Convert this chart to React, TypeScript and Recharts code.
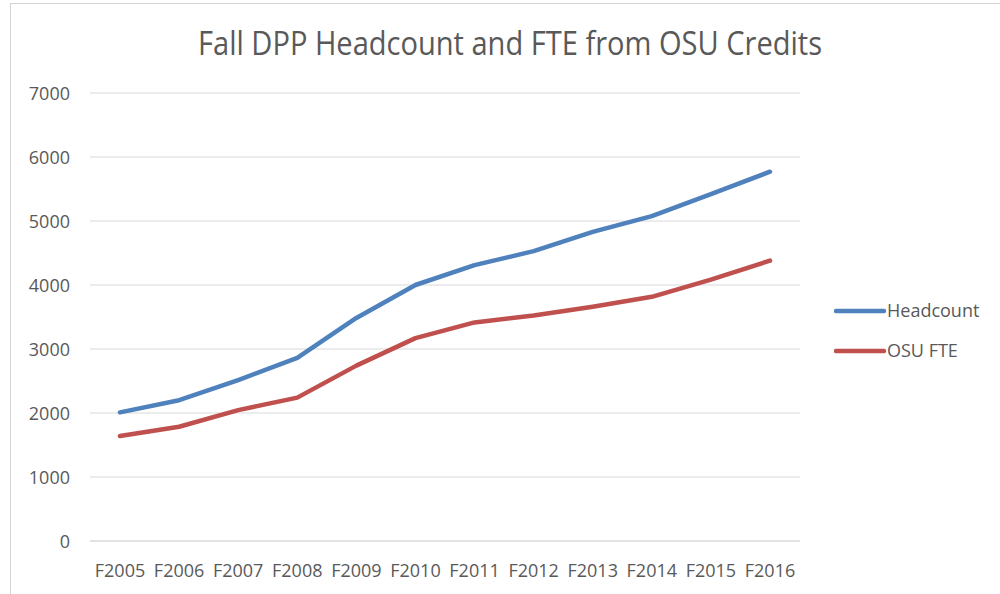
import React from "react";
import { LineChart, Line, XAxis, YAxis, CartesianGrid, Legend } from "recharts";

const categories = ["F2005", "F2006", "F2007", "F2008", "F2009", "F2010", "F2011", "F2012", "F2013", "F2014", "F2015", "F2016"];
const headcount = [2010, 2200, 2515, 2860, 3485, 4000, 4310, 4530, 4830, 5075, 5420, 5770];
const osuFte = [1640, 1785, 2045, 2240, 2740, 3170, 3415, 3525, 3660, 3815, 4085, 4380];
const yTicks = [0, 1000, 2000, 3000, 4000, 5000, 6000, 7000];

const title = "Fall DPP Headcount and FTE from OSU Credits";
const seriesNames = ["Headcount", "OSU FTE"];
const seriesColors = ["#4F81BD", "#C0504D"];

const data = categories.map((c, i) => ({ name: c, headcount: headcount[i], fte: osuFte[i] }));

const FONT = "'Open Sans', sans-serif";
const TEXT = "#595959";

const XTick = (props: any) => {
  const { x, y, payload } = props;
  return (
    <text x={x} y={y + 28} textAnchor="middle" fill={TEXT} fontSize={18} fontFamily={FONT}>
      {payload.value}
    </text>
  );
};

const YTick = (props: any) => {
  const { y, payload } = props;
  return (
    <text x={70} y={y + 7} textAnchor="end" fill={TEXT} fontSize={18} fontFamily={FONT}>
      {payload.value}
    </text>
  );
};

const renderLegend = () => (
  <svg width={160} height={80}>
    {seriesNames.map((n, i) => (
      <g key={n}>
        <line x1={2} x2={50} y1={16 + i * 40} y2={16 + i * 40} stroke={seriesColors[i]} strokeWidth={4.5} strokeLinecap="round" />
        <text x={53} y={16 + i * 40 + 6} fill={TEXT} fontSize={18} fontFamily={FONT}>
          {n}
        </text>
      </g>
    ))}
  </svg>
);

export default function App() {
  return (
    <div style={{ position: "absolute", left: 0, top: 0, width: 1000, height: 594, overflow: "hidden", background: "#fff" }}>
      <div style={{ position: "absolute", left: 10, top: 3, width: 1100, height: 700, border: "1px solid #d4d4d4", boxSizing: "border-box" }} />
      <svg style={{ position: "absolute", left: 0, top: 0 }} width={1000} height={80}>
        <text x={510} y={55} textAnchor="middle" fill={TEXT} fontSize={32} fontFamily={FONT} textLength={624} lengthAdjust="spacingAndGlyphs">
          {title}
        </text>
      </svg>
      <div style={{ position: "absolute", left: 0, top: 0 }}>
        <LineChart width={1000} height={594} data={data} margin={{ top: 93, right: 40, bottom: 0, left: 10 }}>
          <CartesianGrid vertical={false} stroke="#d9d9d9" strokeWidth={1.2} />
          <XAxis
            dataKey="name"
            height={53}
            padding={{ left: 30, right: 30 }}
            tickLine={false}
            axisLine={{ stroke: "#d9d9d9", strokeWidth: 1.2 }}
            tick={<XTick />}
            interval={0}
          />
          <YAxis
            width={80}
            domain={[0, 7000]}
            ticks={yTicks}
            tickLine={false}
            axisLine={false}
            tick={<YTick />}
          />
          <Legend
            layout="horizontal"
            verticalAlign="middle"
            align="right"
            content={renderLegend}
            wrapperStyle={{ position: "absolute", left: 834, top: 295, width: 160, height: 80 }}
          />
          <Line type="linear" dataKey="headcount" name={seriesNames[0]} stroke={seriesColors[0]} strokeWidth={4.5} strokeLinecap="round" strokeLinejoin="round" dot={false} isAnimationActive={false} />
          <Line type="linear" dataKey="fte" name={seriesNames[1]} stroke={seriesColors[1]} strokeWidth={4.5} strokeLinecap="round" strokeLinejoin="round" dot={false} isAnimationActive={false} />
        </LineChart>
      </div>
    </div>
  );
}
